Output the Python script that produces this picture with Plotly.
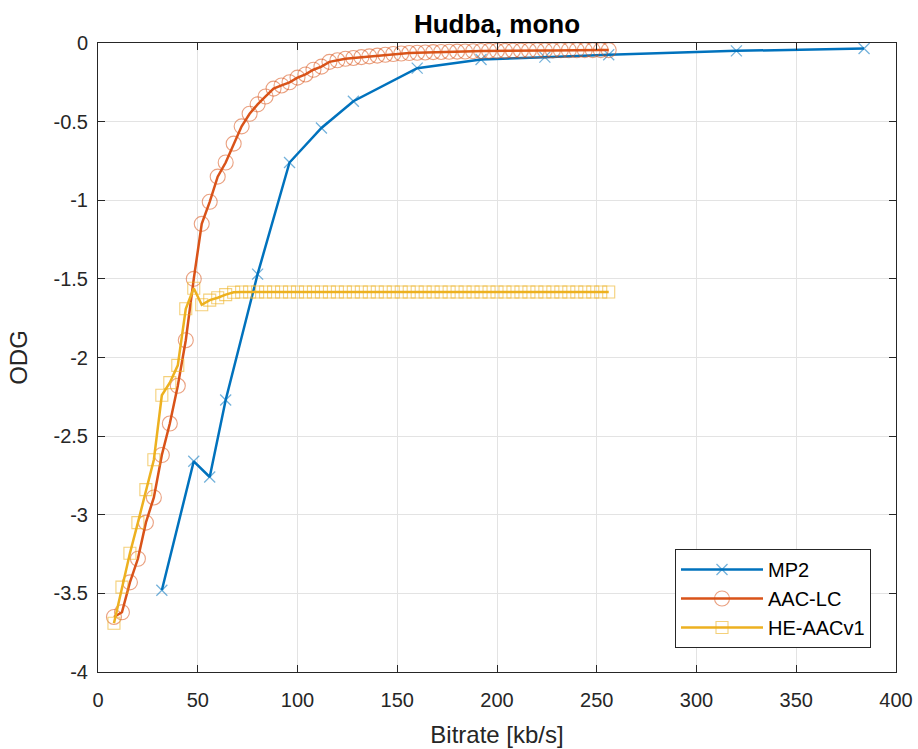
import plotly.graph_objects as go

# ---- data ----
mp2_x = [32, 48, 56, 64, 80, 96, 112, 128, 160, 192, 224, 256, 320, 384]
mp2_y = [-3.48, -2.66, -2.76, -2.27, -1.47, -0.76, -0.54, -0.37, -0.16, -0.105,
         -0.09, -0.075, -0.05, -0.035]

aac_x = list(range(8, 257, 4))
aac_y = [-3.65, -3.62, -3.43, -3.28, -3.05, -2.89, -2.62, -2.42, -2.18, -1.89,
         -1.50, -1.15, -1.01, -0.85, -0.76, -0.64, -0.53, -0.45, -0.39, -0.34,
         -0.29, -0.27, -0.25, -0.22, -0.20, -0.17, -0.15, -0.12, -0.11, -0.10,
         -0.095, -0.09, -0.085, -0.08, -0.075, -0.07, -0.067, -0.064, -0.062, -0.06,
         -0.058, -0.057, -0.056, -0.055, -0.054, -0.052, -0.051, -0.05, -0.05, -0.05,
         -0.049, -0.049, -0.048, -0.048, -0.047, -0.047, -0.046, -0.046, -0.046, -0.045,
         -0.045, -0.045, -0.045]

he_x = list(range(8, 257, 4))
he_y = [-3.69, -3.46, -3.245, -3.05, -2.84, -2.65, -2.24, -2.16, -2.05, -1.69,
        -1.56, -1.665, -1.635, -1.62, -1.60, -1.585] + [-1.583] * 47

x_ticks = [0, 50, 100, 150, 200, 250, 300, 350, 400]
y_ticks = [0, -0.5, -1, -1.5, -2, -2.5, -3, -3.5, -4]
y_tick_text = ["0", "-0.5", "-1", "-1.5", "-2", "-2.5", "-3", "-3.5", "-4"]

# ---- figure ----
C_MP2 = (0, 114, 189)
C_AAC = (217, 83, 25)
C_HE = (237, 177, 32)

def rgb(c, a=1.0):
    return f"rgba({c[0]},{c[1]},{c[2]},{a})"

fig = go.Figure()
fig.add_trace(go.Scatter(
    x=mp2_x, y=mp2_y, name="MP2", mode="lines+markers",
    line=dict(color=rgb(C_MP2), width=2.5),
    marker=dict(symbol="x-thin-open", size=11, color=rgb(C_MP2, 0.55),
                line=dict(width=1.3, color=rgb(C_MP2, 0.55)))))
fig.add_trace(go.Scatter(
    x=aac_x, y=aac_y, name="AAC-LC", mode="lines+markers",
    line=dict(color=rgb(C_AAC), width=2.5),
    marker=dict(symbol="circle-open", size=15, color=rgb(C_AAC, 0.55),
                line=dict(width=1.1, color=rgb(C_AAC, 0.55)))))
fig.add_trace(go.Scatter(
    x=he_x, y=he_y, name="HE-AACv1", mode="lines+markers",
    line=dict(color=rgb(C_HE), width=2.5),
    marker=dict(symbol="square-open", size=12, color=rgb(C_HE, 0.6),
                line=dict(width=1.1, color=rgb(C_HE, 0.6)))))

axis_color = "#262626"
grid_color = "#e3e3e3"
font_family = "Liberation Sans, Arial, sans-serif"

fig.update_layout(
    width=918, height=749,
    margin=dict(l=98, r=22, t=43, b=77, autoexpand=False),
    paper_bgcolor="white", plot_bgcolor="white",
    font=dict(family=font_family, size=20, color=axis_color),
    title=dict(text="<b>Hudba, mono</b>", x=0.5, xref="paper",
               y=1 - 24 / 749, yref="container", yanchor="middle",
               font=dict(size=26, color="black")),
    showlegend=True,
    legend=dict(x=(871 - 98) / 798, y=(672 - 648) / 629,
                xanchor="right", yanchor="bottom",
                bgcolor="white", bordercolor=axis_color, borderwidth=1,
                font=dict(size=20, color="black"), itemwidth=82,
                tracegroupgap=0),
)
fig.update_xaxes(
    range=[0, 400], tickvals=x_ticks, ticktext=[str(v) for v in x_ticks],
    showline=True, linecolor=axis_color, linewidth=1, mirror="ticks",
    ticks="inside", ticklen=7, tickcolor=axis_color,
    showgrid=True, gridcolor=grid_color, gridwidth=1, zeroline=False,
    automargin=False,
    title=dict(text="Bitrate [kb/s]", font=dict(size=24), standoff=16),
    tickfont=dict(size=20), ticklabelstandoff=10,
)
fig.update_yaxes(
    range=[-4, 0], tickvals=y_ticks, ticktext=y_tick_text,
    showline=True, linecolor=axis_color, linewidth=1, mirror="ticks",
    ticks="inside", ticklen=7, tickcolor=axis_color,
    showgrid=True, gridcolor=grid_color, gridwidth=1, zeroline=False,
    automargin=False,
    title=dict(text="ODG", font=dict(size=24), standoff=19),
    tickfont=dict(size=20), ticklabelstandoff=5,
)

fig.write_html("out.html")
